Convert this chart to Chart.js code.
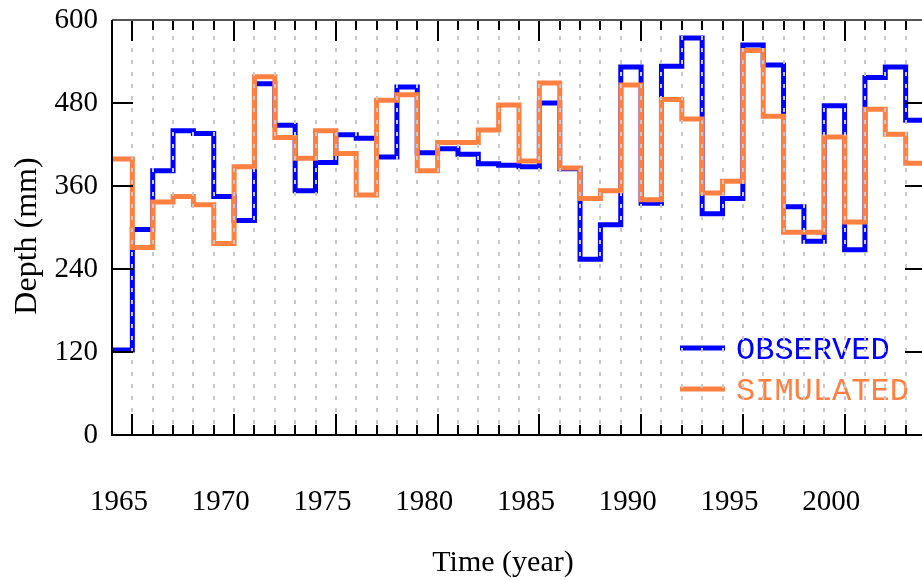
<!DOCTYPE html>
<html>
<head>
<meta charset="utf-8">
<script src="https://cdn.jsdelivr.net/npm/chart.js@4"></script>
<style>
  html, body { margin: 0; padding: 0; background: #fff; }
  #wrap { width: 922px; height: 580px; overflow: hidden; position: relative; }
  canvas { display: block; }
</style>
</head>
<body>
<div id="wrap"><canvas id="depthChart" width="940" height="580"></canvas></div>
<script>
const years = [1965, 1966, 1967, 1968, 1969, 1970, 1971, 1972, 1973, 1974,
  1975, 1976, 1977, 1978, 1979, 1980, 1981, 1982, 1983, 1984,
  1985, 1986, 1987, 1988, 1989, 1990, 1991, 1992, 1993, 1994,
  1995, 1996, 1997, 1998, 1999, 2000, 2001, 2002, 2003, 2004];

const observed = [123, 297, 382, 440, 436, 345, 310, 508, 448, 353,
  394, 434, 429, 402, 503, 408, 414, 406, 392, 390,
  388, 480, 385, 254, 304, 532, 335, 533, 574, 320,
  342, 564, 535, 330, 280, 476, 268, 517, 532, 455];

const simulated = [399, 271, 337, 345, 333, 277, 388, 518, 430, 400,
  440, 407, 347, 484, 492, 382, 423, 423, 441, 477,
  396, 509, 386, 342, 353, 506, 340, 485, 457, 350,
  367, 556, 461, 293, 293, 431, 308, 471, 435, 393];

const yTicks = [0, 120, 240, 360, 480, 600];
const xLabelYears = [1965, 1970, 1975, 1980, 1985, 1990, 1995, 2000];
const majorTickYears = [1966, 1971, 1976, 1981, 1986, 1991, 1996, 2001];

const BLUE = '#0000ff';
const ORANGE = '#ff8040';

// step data: each year's value held until the next year
function toSteps(values) {
  const pts = years.map((yr, i) => ({ x: yr, y: values[i] }));
  pts.push({ x: years[years.length - 1] + 1, y: values[values.length - 1] });
  return pts;
}

// legend, dashed year lines, inner tick marks and the frame
const framePlugin = {
  id: 'frame',
  afterDatasetsDraw(chart) {
    const { ctx, chartArea: a, scales: { x, y } } = chart;
    ctx.save();

    // legend
    const legend = [
      { text: 'OBSERVED', color: BLUE, y: 348 },
      { text: 'SIMULATED', color: ORANGE, y: 389 }
    ];
    ctx.font = '32px "Liberation Mono"';
    ctx.textBaseline = 'middle';
    legend.forEach(item => {
      ctx.strokeStyle = item.color;
      ctx.lineWidth = 5;
      ctx.beginPath();
      ctx.moveTo(680, item.y);
      ctx.lineTo(725, item.y);
      ctx.stroke();
      ctx.fillStyle = item.color;
      ctx.fillText(item.text, 736, item.y + 3);
    });

    // dashed year lines over the data
    ctx.strokeStyle = '#c8c8c8';
    ctx.lineWidth = 2;
    ctx.setLineDash([4, 8]);
    years.forEach(yr => {
      if (yr <= x.min) return;
      const px = Math.round(x.getPixelForValue(yr));
      ctx.beginPath();
      ctx.moveTo(px, a.top + 4);
      ctx.lineTo(px, a.bottom);
      ctx.stroke();
    });
    ctx.setLineDash([]);

    // tick marks inside the frame
    ctx.strokeStyle = '#000';
    ctx.lineWidth = 2;
    years.forEach(yr => {
      if (yr <= x.min) return;
      const px = Math.round(x.getPixelForValue(yr));
      const len = majorTickYears.includes(yr) ? 21 : 10;
      ctx.beginPath();
      ctx.moveTo(px, a.bottom);
      ctx.lineTo(px, a.bottom - len);
      ctx.moveTo(px, a.top);
      ctx.lineTo(px, a.top + len);
      ctx.stroke();
    });
    yTicks.forEach(v => {
      if (v <= y.min || v >= y.max) return;
      const py = Math.round(y.getPixelForValue(v));
      ctx.beginPath();
      ctx.moveTo(a.left, py);
      ctx.lineTo(a.left + 21, py);
      ctx.moveTo(a.right, py);
      ctx.lineTo(a.right - 21, py);
      ctx.stroke();
    });

    // frame
    ctx.strokeStyle = '#555';
    ctx.beginPath();
    ctx.moveTo(a.left, a.top);
    ctx.lineTo(a.right, a.top);
    ctx.lineTo(a.right, a.bottom);
    ctx.stroke();
    ctx.strokeStyle = '#000';
    ctx.beginPath();
    ctx.moveTo(a.left, a.top);
    ctx.lineTo(a.left, a.bottom);
    ctx.lineTo(a.right, a.bottom);
    ctx.stroke();

    // axis titles
    ctx.fillStyle = '#000';
    ctx.font = '30px "Liberation Serif"';
    ctx.textAlign = 'center';
    ctx.fillText('Time (year)', 503, 563);
    ctx.translate(28, 236);
    ctx.rotate(-Math.PI / 2);
    ctx.font = '32px "Liberation Serif"';
    ctx.fillText('Depth (mm)', 0, 0);

    ctx.restore();
  }
};

Chart.defaults.font.family = '"Liberation Serif", serif';
Chart.defaults.color = '#000';

const ctx = document.getElementById('depthChart').getContext('2d');
const depthChart = new Chart(ctx, {
  type: 'line',
  data: {
    datasets: [
      {
        label: 'OBSERVED',
        data: toSteps(observed),
        borderColor: BLUE,
        borderWidth: 5,
        stepped: 'before',
        pointRadius: 0,
        fill: false,
        order: 1
      },
      {
        label: 'SIMULATED',
        data: toSteps(simulated),
        borderColor: ORANGE,
        borderWidth: 5,
        stepped: 'before',
        pointRadius: 0,
        fill: false,
        order: 0
      }
    ]
  },
  options: {
    responsive: false,
    animation: false,
    layout: { padding: { top: 20, right: 14, left: 0, bottom: 0 } },
    plugins: {
      legend: { display: false },
      tooltip: { enabled: false }
    },
    scales: {
      x: {
        type: 'linear',
        min: 1965,
        max: 2005,
        grid: { display: false, drawTicks: false },
        border: { display: false },
        afterFit: scale => {
          scale.height = 145;
          scale.paddingLeft = 0;
          scale.paddingRight = 0;
        },
        afterBuildTicks: scale => {
          scale.ticks = xLabelYears.map(v => ({ value: v }));
        },
        ticks: {
          autoSkip: false,
          maxRotation: 0,
          padding: 50,
          labelOffset: 7,
          font: { size: 29 },
          callback: v => String(v)
        }
      },
      y: {
        min: 0,
        max: 600,
        grid: { display: false, drawTicks: false },
        border: { display: false },
        afterFit: scale => {
          scale.width = 112;
          scale.paddingTop = 0;
          scale.paddingBottom = 0;
        },
        afterBuildTicks: scale => {
          scale.ticks = yTicks.map(v => ({ value: v }));
        },
        ticks: {
          padding: 14,
          font: { size: 29 }
        }
      }
    }
  },
  plugins: [framePlugin]
});
</script>
</body>
</html>
